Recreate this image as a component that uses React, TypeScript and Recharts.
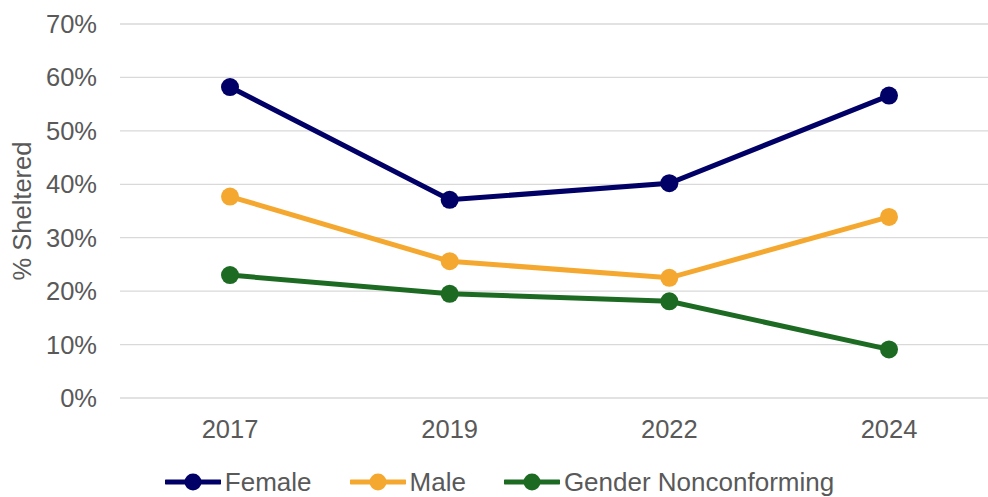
import React from 'react';
import { LineChart, Line, XAxis, YAxis, CartesianGrid, Legend, Label } from 'recharts';

const years = ['2017', '2019', '2022', '2024'];
const female = [58.2, 37.1, 40.2, 56.6];
const male = [37.7, 25.6, 22.5, 33.9];
const genderNonconforming = [23.0, 19.5, 18.1, 9.1];
const yTicks = [0, 10, 20, 30, 40, 50, 60, 70];

const seriesInfo = [
  { key: 'female', name: 'Female', color: '#000066' },
  { key: 'male', name: 'Male', color: '#F5A830' },
  { key: 'gnc', name: 'Gender Nonconforming', color: '#1D6B23' },
];

const data = years.map((y, i) => ({
  year: y,
  female: female[i],
  male: male[i],
  gnc: genderNonconforming[i],
}));

const FONT = 'Liberation Sans, Arial, sans-serif';
const TEXT = '#595959';

const LegendContent = () => (
  <div
    style={{
      display: 'flex',
      justifyContent: 'center',
      alignItems: 'center',
      height: 30,
      lineHeight: '30px',
      fontFamily: FONT,
      fontSize: 26,
      color: TEXT,
    }}
  >
    {seriesInfo.map((s, i) => (
      <div
        key={s.key}
        style={{ display: 'flex', alignItems: 'center', marginRight: i < seriesInfo.length - 1 ? 38 : 0 }}
      >
        <svg width={56} height={20} style={{ marginRight: 4 }}>
          <line x1={1} y1={10} x2={55} y2={10} stroke={s.color} strokeWidth={5} strokeLinecap="round" />
          <circle cx={28} cy={10} r={8.5} fill={s.color} />
        </svg>
        <span>{s.name}</span>
      </div>
    ))}
  </div>
);

const YLabel = (props: any) => {
  const vb = props.viewBox || {};
  const cy = (vb.y || 0) + (vb.height || 0) / 2;
  return (
    <text
      x={22}
      y={cy}
      transform={`rotate(-90, 22, ${cy})`}
      textAnchor="middle"
      dominantBaseline="central"
      fill={TEXT}
      fontFamily={FONT}
      fontSize={25.5}
    >
      % Sheltered
    </text>
  );
};

export default function App() {
  return (
    <div style={{ position: 'absolute', left: 0, top: 0, width: 988, height: 497, overflow: 'hidden', background: '#fff' }}>
      <LineChart width={1000} height={497} data={data} margin={{ top: 24, right: 1, left: 0, bottom: 0 }}>
        <CartesianGrid vertical={false} stroke="#D9D9D9" strokeWidth={1.3} />
        <XAxis
          dataKey="year"
          axisLine={false}
          tickLine={false}
          tickSize={0}
          tickMargin={22}
          height={69}
          padding={{ left: 110, right: 110 }}
          tick={{ fill: TEXT, fontSize: 25.5, fontFamily: FONT }}
        />
        <YAxis
          domain={[0, 70]}
          ticks={yTicks}
          interval={0}
          axisLine={false}
          tickLine={false}
          tickSize={0}
          tickMargin={23}
          width={120}
          tickFormatter={(v: number) => `${v}%`}
          tick={{ fill: TEXT, fontSize: 25.5, fontFamily: FONT }}
        >
          <Label content={<YLabel />} />
        </YAxis>
        <Legend verticalAlign="bottom" height={30} content={<LegendContent />} />
        {seriesInfo.map((s) => (
          <Line
            key={s.key}
            type="linear"
            dataKey={s.key}
            name={s.name}
            stroke={s.color}
            strokeWidth={5}
            dot={{ r: 9, fill: s.color, stroke: 'none' }}
            activeDot={false}
            isAnimationActive={false}
          />
        ))}
      </LineChart>
    </div>
  );
}
